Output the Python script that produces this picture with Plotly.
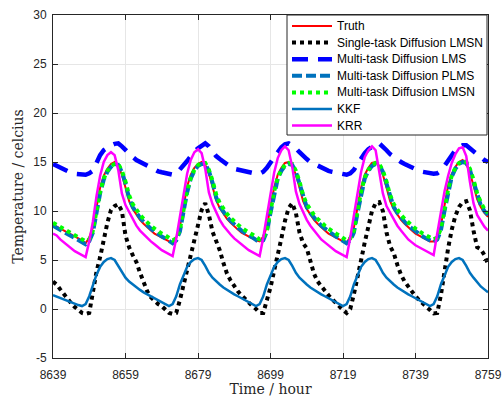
import plotly.graph_objects as go

hours = list(range(8639, 8760))

truth = [
    8.6, 8.4, 8.2, 8.0, 7.8, 7.6, 7.4, 7.2, 7.0, 6.7,
    7.3, 8.3, 10.5, 12.4, 13.6, 14.3, 14.8, 15.0,
    14.6, 13.7, 12.4, 11.0, 10.2, 9.6, 9.1, 8.7, 8.3, 8.0, 7.7, 7.5, 7.3, 7.1, 6.9,
    6.8,
    7.3, 8.4, 10.5, 12.5, 13.7, 14.4, 14.8, 15.0,
    14.7, 13.8, 12.5, 11.1, 10.3, 9.7, 9.2, 8.8, 8.4, 8.1, 7.8, 7.6, 7.4, 7.2, 7.0,
    6.9,
    7.4, 8.4, 10.5, 12.4, 13.7, 14.4, 14.9, 15.0,
    14.6, 13.7, 12.4, 11.0, 10.2, 9.6, 9.1, 8.7, 8.3, 8.0, 7.7, 7.5, 7.3, 7.1, 6.9,
    6.8,
    7.3, 8.3, 10.5, 12.4, 13.7, 14.4, 14.9, 15.0,
    14.6, 13.7, 12.4, 11.0, 10.2, 9.6, 9.1, 8.7, 8.3, 8.0, 7.7, 7.5, 7.3, 7.1, 6.9,
    6.9,
    7.4, 8.5, 10.6, 12.6, 13.8, 14.5, 15.0, 15.2,
    14.8, 13.9, 12.6, 11.2, 10.4, 9.8, 9.4]

single_lmsn = [
    2.8, 2.5, 2.0, 1.5, 1.0, 0.6, 0.2, -0.1, -0.4, -0.5,
    -0.4, 1.7, 3.8, 5.3, 7.2, 8.8, 10.1, 10.5, 10.7, 10.0,
    7.5, 6.3, 5.5, 4.8, 3.7, 2.6, 1.8, 1.2, 0.8, 0.5,
    0.3, 0.0, -0.4, -0.5, -0.4,
    0.9, 2.4, 4.0, 5.5, 6.9, 8.6, 10.1, 10.8, 9.6, 7.9,
    7.0, 6.0, 4.7, 3.6, 2.9, 2.3, 1.8, 1.4, 1.0, 0.6,
    0.3, 0.0, -0.4, -0.4,
    0.9, 2.2, 3.9, 5.4, 7.2, 9.0, 10.3, 10.8, 9.8, 7.8,
    6.7, 6.2, 5.0, 3.6, 2.8, 2.3, 1.9, 1.4, 1.0, 0.6,
    0.3, -0.1, -0.4,
    0.0, 1.5, 3.1, 5.0, 6.8, 8.6, 10.0, 10.8, 10.9, 10.0,
    7.8, 6.4, 5.7, 4.5, 3.5, 2.8, 2.3, 1.7, 1.3, 0.9,
    0.6, 0.2, -0.1, -0.45,
    -0.4, 1.4, 3.9, 6.2, 8.1, 9.5, 10.4, 10.9, 11.0, 10.1,
    8.0, 6.3, 6.1, 5.5, 4.6]

multi_lms = [
    14.8, 14.6, 14.4, 14.2, 14.05, 13.9, 13.8, 13.75, 13.7, 13.7,
    13.85, 14.1, 14.9, 15.7, 16.2, 16.5, 16.7, 16.85, 16.9, 16.6,
    16.2, 15.8, 15.5, 15.2, 15.0, 14.8, 14.6, 14.4, 14.2, 14.05,
    13.95, 13.85, 13.75, 13.7, 13.8, 14.2, 14.7, 15.1, 15.6, 16.1,
    16.4, 16.7, 16.9, 16.6, 16.1, 15.6, 15.3, 15.0, 14.7, 14.5,
    14.3, 14.2, 14.1, 14.0, 13.9, 13.85, 13.8, 13.8, 14.0, 14.4,
    15.0, 15.5, 16.0, 16.5, 16.8, 16.9, 16.7, 16.4, 16.0, 15.6,
    15.3, 15.0, 14.8, 14.6, 14.4, 14.2, 14.1, 14.0, 13.9, 13.8,
    13.7, 13.7, 13.85, 14.2, 14.8, 15.4, 15.9, 16.3, 16.6, 16.8,
    16.9, 16.6, 16.2, 15.8, 15.5, 15.2, 15.0, 14.8, 14.6, 14.4,
    14.25, 14.1, 14.0, 13.9, 13.85, 13.8, 13.85, 14.1, 14.6, 15.2,
    15.8, 16.2, 16.5, 16.7, 16.7, 16.4, 16.0, 15.7, 15.4, 15.2,
    15.0]

multi_plms = [
    8.5, 8.3, 8.1, 7.9, 7.7, 7.5, 7.3, 7.1, 6.9, 6.6,
    6.9, 7.8, 9.8, 11.8, 13.2, 14.0, 14.5, 14.8,
    14.7, 14.0, 12.8, 11.3, 10.4, 9.8, 9.3, 8.9, 8.5, 8.2, 7.9, 7.6, 7.4, 7.2, 7.0,
    6.7,
    7.0, 7.9, 9.9, 11.9, 13.3, 14.1, 14.6, 14.8,
    14.8, 14.1, 12.9, 11.4, 10.5, 9.9, 9.4, 9.0, 8.6, 8.3, 8.0, 7.7, 7.5, 7.3, 7.1,
    6.8,
    7.0, 7.9, 9.8, 11.8, 13.3, 14.1, 14.6, 14.8,
    14.7, 14.0, 12.8, 11.3, 10.4, 9.8, 9.3, 8.9, 8.5, 8.2, 7.9, 7.6, 7.4, 7.2, 7.0,
    6.7,
    7.0, 7.8, 9.8, 11.8, 13.3, 14.1, 14.6, 14.8,
    14.7, 14.0, 12.8, 11.3, 10.4, 9.8, 9.3, 8.9, 8.5, 8.2, 7.9, 7.6, 7.4, 7.2, 7.0,
    6.8,
    7.1, 8.0, 10.0, 12.0, 13.5, 14.3, 14.8, 15.0,
    14.9, 14.2, 13.0, 11.5, 10.6, 10.0, 9.6]

multi_lmsn = [
    8.8, 8.6, 8.4, 8.2, 8.0, 7.8, 7.6, 7.4, 7.2, 6.9,
    7.1, 8.0, 10.0, 12.0, 13.3, 14.1, 14.6, 14.8,
    14.8, 14.1, 13.0, 11.6, 10.7, 10.1, 9.6, 9.2, 8.8, 8.5, 8.2, 7.9, 7.7, 7.5, 7.3,
    7.0,
    7.2, 8.1, 10.1, 12.1, 13.4, 14.2, 14.7, 14.9,
    14.9, 14.2, 13.1, 11.7, 10.8, 10.2, 9.7, 9.3, 8.9, 8.6, 8.3, 8.0, 7.8, 7.6, 7.4,
    7.1,
    7.2, 8.1, 10.0, 12.0, 13.4, 14.2, 14.7, 14.9,
    14.8, 14.1, 13.0, 11.6, 10.7, 10.1, 9.6, 9.2, 8.8, 8.5, 8.2, 7.9, 7.7, 7.5, 7.3,
    7.0,
    7.2, 8.0, 10.0, 12.0, 13.4, 14.2, 14.7, 14.9,
    14.8, 14.1, 13.0, 11.6, 10.7, 10.1, 9.6, 9.2, 8.8, 8.5, 8.2, 7.9, 7.7, 7.5, 7.3,
    7.1,
    7.3, 8.2, 10.2, 12.2, 13.6, 14.4, 14.9, 15.1,
    15.0, 14.3, 13.2, 11.8, 10.9, 10.2, 9.8]

kkf = [
    1.4, 1.25, 1.1, 0.95, 0.8, 0.65, 0.5, 0.4, 0.3, 0.5,
    1.3, 2.5, 3.5, 4.3, 4.8, 5.1, 5.2, 5.0, 4.4, 3.7,
    3.2, 2.8, 2.5, 2.2, 1.95, 1.7, 1.5, 1.3, 1.1, 0.9,
    0.7, 0.5, 0.3, 0.5, 1.3, 2.5, 3.5, 4.3, 4.8, 5.1,
    5.2, 5.0, 4.4, 3.7, 3.2, 2.8, 2.5, 2.2, 1.95, 1.7,
    1.5, 1.3, 1.1, 0.9, 0.7, 0.5, 0.3, 0.5, 1.3, 2.5,
    3.5, 4.3, 4.8, 5.1, 5.2, 5.0, 4.4, 3.7, 3.2, 2.8,
    2.5, 2.2, 1.95, 1.7, 1.5, 1.3, 1.1, 0.9, 0.7, 0.5,
    0.3, 0.5, 1.3, 2.5, 3.5, 4.3, 4.8, 5.1, 5.2, 5.0,
    4.4, 3.7, 3.2, 2.8, 2.5, 2.2, 1.95, 1.7, 1.5, 1.3,
    1.1, 0.9, 0.7, 0.5, 0.3, 0.5, 1.3, 2.5, 3.5, 4.3,
    4.8, 5.1, 5.2, 5.0, 4.4, 3.7, 3.2, 2.7, 2.3, 2.0,
    1.7]

krr = [
    7.7, 7.5, 7.1, 6.8, 6.5, 6.2, 5.9, 5.7, 5.5, 5.3,
    6.9, 8.9, 11.5, 13.6, 15.0, 15.7, 16.0, 15.7,
    14.2, 11.8, 10.6, 9.9, 9.1, 8.5, 8.0, 7.6, 7.2, 6.9, 6.6, 6.3, 6.0, 5.8, 5.6, 5.4,
    7.2, 9.3, 11.8, 13.8, 15.2, 16.0, 16.3, 15.9,
    14.3, 11.9, 10.7, 9.9, 9.1, 8.5, 8.0, 7.6, 7.2, 6.9, 6.6, 6.3, 6.0, 5.8, 5.6, 5.4,
    7.3, 9.4, 11.9, 13.9, 15.4, 16.2, 16.6, 16.2,
    14.5, 12.0, 10.7, 9.9, 9.1, 8.5, 8.0, 7.5, 7.1, 6.8, 6.5, 6.2, 5.9, 5.7, 5.5, 5.3,
    7.3, 9.5, 12.0, 14.0, 15.5, 16.2, 16.6, 16.2,
    14.0, 11.8, 10.5, 9.8, 9.1, 8.5, 8.0, 7.5, 7.1, 6.8, 6.5, 6.3, 6.1, 5.9, 5.7, 5.5,
    7.7, 10.0, 12.0, 13.6, 14.9, 15.8, 16.4, 16.5, 15.6, 13.0, 10.8, 9.6, 9.0, 8.4, 8.0]

x_ticks = [8639, 8659, 8679, 8699, 8719, 8739, 8759]
y_ticks = [-5, 0, 5, 10, 15, 20, 25, 30]
y_tick_text = ["-5", "0", "5", "10", "15", "20", "25", "30"]

series = [
    ("Truth", truth, dict(color="#FF0000", width=2)),
    ("Single-task Diffusion LMSN", single_lmsn, dict(color="#000000", width=4, dash="4px,4px")),
    ("Multi-task Diffusion LMS", multi_lms, dict(color="#0000FF", width=4.5, dash="16px,10px")),
    ("Multi-task Diffusion PLMS", multi_plms, dict(color="#0072BD", width=4, dash="10px,4px")),
    ("Multi-task Diffusion LMSN", multi_lmsn, dict(color="#00FF00", width=4, dash="4px,4px")),
    ("KKF", kkf, dict(color="#0072BD", width=2.5)),
    ("KRR", krr, dict(color="#FF00FF", width=2.5)),
]

W, H = 504, 397
M_L, M_R, M_T, M_B = 53, 16, 15, 39
PW, PH = W - M_L - M_R, H - M_T - M_B


def px_to_paper(px, py):
    return (px - M_L) / PW, (H - M_B - py) / PH


fig = go.Figure()
for name, vals, line in series:
    fig.add_trace(go.Scatter(x=hours, y=vals, name=name, mode="lines", line=line,
                             showlegend=False))

# Legend box (drawn as layout shapes + annotations to match the compact row spacing)
LEG_L, LEG_R, LEG_T, LEG_B = 287, 487, 15, 135
ROW0, ROW_STEP = 26, 16.6
SAMPLE_X0, SAMPLE_X1, TEXT_X = 292, 332, 335

shapes = []
annotations = []
x0, y0 = px_to_paper(LEG_L, LEG_B)
x1, y1 = px_to_paper(LEG_R, LEG_T)
shapes.append(dict(type="rect", xref="paper", yref="paper", x0=x0, y0=y0, x1=x1, y1=y1,
                   fillcolor="white", line=dict(color="#262626", width=1), layer="above"))
for i, (name, vals, line) in enumerate(series):
    ry = ROW0 + i * ROW_STEP
    sx0, sy = px_to_paper(SAMPLE_X0, ry)
    sx1, _ = px_to_paper(SAMPLE_X1, ry)
    shapes.append(dict(type="line", xref="paper", yref="paper", x0=sx0, x1=sx1, y0=sy, y1=sy,
                       line=line, layer="above"))
    tx, _ = px_to_paper(TEXT_X, ry)
    annotations.append(dict(text=name, xref="paper", yref="paper", x=tx, y=sy,
                            xanchor="left", yanchor="middle", showarrow=False,
                            font=dict(family="Liberation Sans, Arial, sans-serif", size=12,
                                      color="#000000")))

axis_common = dict(
    showgrid=True, gridcolor="#E6E6E6", gridwidth=1,
    showline=True, linecolor="#262626", linewidth=1, mirror="ticks",
    ticks="inside", ticklen=5, tickcolor="#262626", tickwidth=1,
    zeroline=False, automargin=False,
    tickfont=dict(family="Liberation Sans, Arial, sans-serif", size=12, color="#262626"),
)

fig.update_layout(
    width=W, height=H,
    margin=dict(l=M_L, r=M_R, t=M_T, b=M_B),
    paper_bgcolor="white", plot_bgcolor="white",
    xaxis=dict(range=[8639, 8759], tickvals=x_ticks, ticklabelstandoff=6,
               title=dict(text="Time / hour", standoff=2,
                          font=dict(family="DejaVu Serif, serif", size=14, color="#262626")),
               **axis_common),
    yaxis=dict(range=[-5, 30], tickvals=y_ticks, ticktext=y_tick_text, ticklabelstandoff=3,
               title=dict(text="Temperature / celcius", standoff=6,
                          font=dict(family="DejaVu Serif, serif", size=14, color="#262626")),
               **axis_common),
    shapes=shapes,
    annotations=annotations,
    showlegend=False,
)

fig.write_html("out.html")
